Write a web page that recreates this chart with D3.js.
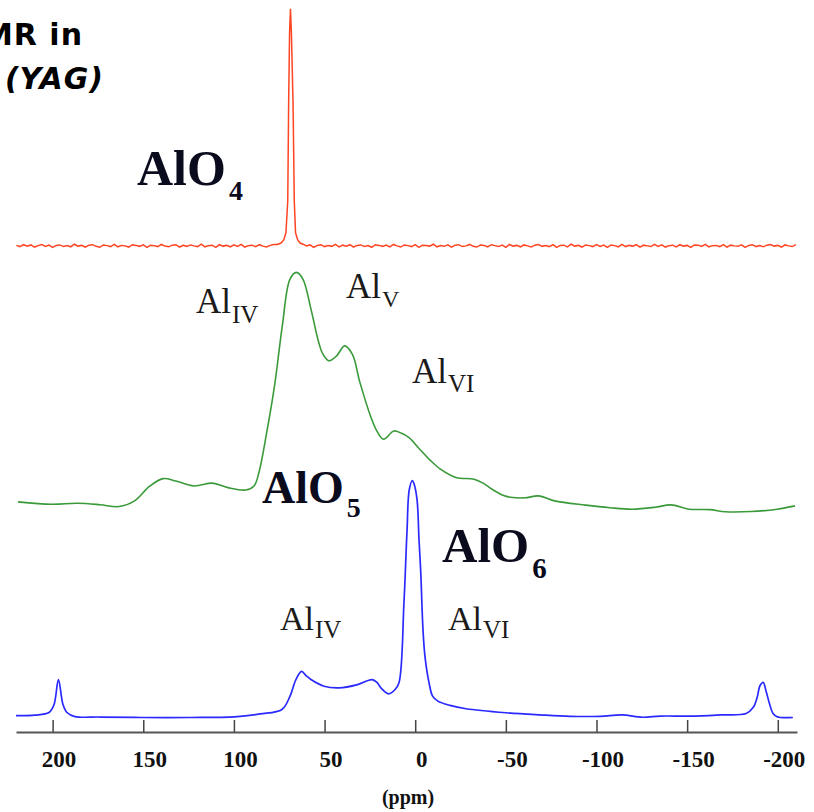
<!DOCTYPE html>
<html>
<head>
<meta charset="utf-8">
<script src="https://cdn.jsdelivr.net/npm/d3@7"></script>
<style>
  html, body { margin: 0; padding: 0; background: #fff; }
  svg { display: block; }
</style>
</head>
<body>
<script>
// ---------------- DATA ----------------
const ppmTicks = [200, 150, 100, 50, 0, -50, -100, -150, -200];
const axisTitle = "(ppm)";

// vertical stacking offsets of the three traces (intensity units)
const traceOffsets = { blue: 0, green: 90, red: 199 };

// red trace (crystalline YAG) : sharp AlO4 line + noisy baseline
const redGridStart = 220, redGridStep = -2;
const redNoise = [
  0.2,-0.3,0.5,-0.1,0.4,-0.5,0.1,0.6,-0.2,0.3,
  -0.6,0.2,0.4,-0.3,0.1,-0.4,0.7,-0.1,0.2,-0.5,
  0.3,0.5,-0.2,-0.6,0.4,0.1,-0.3,0.6,-0.4,0.2,
  0.0,-0.5,0.5,0.2,-0.2,0.4,-0.6,0.3,0.1,-0.3,
  0.6,-0.1,-0.4,0.3,0.5,-0.5,0.2,-0.2,0.4,0.0,
  -0.3,0.7,-0.4,0.1,0.3,-0.6,0.5,-0.1,0.2,-0.4,
  0.4,-0.2,0.6,-0.5,0.1,0.3,-0.3,0.5,-0.1,-0.5,
  0.2,0.6,-0.3,0.1,-0.4,0.4,-0.2,0.3,0.7,-0.5,
  0.0,0.4,-0.6,0.2,0.5,-0.3,0.1,-0.2,0.6,-0.4,
  0.3,-0.1,0.5,-0.5,0.2,0.4,-0.3,0.1,-0.6,0.5,
  0.2,-0.2,0.3,-0.4,0.6,0.0,-0.5,0.4,0.1,-0.3,
  0.5,-0.6,0.3,0.2,-0.1,0.7,-0.4,0.1,-0.2,0.4,
  -0.5,0.3,0.5,-0.3,0.0,0.6,-0.2,-0.5,0.4,0.2,
  -0.4,0.5,0.1,-0.3,0.3,-0.6,0.6,-0.1,0.2,-0.4,
  0.4,0.0,-0.5,0.3,0.6,-0.2,0.1,-0.3,0.5,-0.6,
  0.2,0.3,-0.4,0.7,-0.1,0.2,-0.5,0.4,0.1,-0.3,
  0.5,-0.2,0.3,-0.6,0.4,0.1,-0.4,0.6,-0.3,0.2,
  -0.1,0.5,-0.5,0.3,0.0,-0.3,0.6,-0.2,0.4,-0.5,
  0.1,0.3,-0.4,0.5,-0.1,0.2,-0.6,0.4,0.3,-0.2,
  0.6,-0.4,0.1,0.2,-0.3,0.5,-0.5,0.3,0.0,-0.2,
  0.4,-0.6,0.2,0.5,-0.3,0.1,-0.4,0.3,0.6,-0.1,
  0.2,-0.5,0.4,0.0,-0.3,0.5
];
const redPeak = [
  [76, 0.6], [74, 1.2], [72.5, 2.5], [71.3, 5.5], [70.3, 19], [69.8, 61],
  [69.3, 90], [68.8, 100], [68.3, 90], [67.4, 61], [66.7, 19], [66.0, 5.5],
  [64.8, 2.5], [63.5, 1.2], [61.5, 0.6]
];

// green trace (amorphous) [ppm, intensity]
const greenSpectrum = [
  [219.1,1.0],[200.5,0.0],[186.2,0.4],[173.9,-0.2],[163.4,-1.0],[154.8,1.4],
  [146.3,7.7],[139.1,10.8],[132.0,9.8],[122.0,7.7],[111.9,8.9],[103.3,7.0],
  [93.4,6.0],[88.9,7.7],[86.2,13.4],[81.9,30.3],[77.6,49.9],[73.3,75.2],
  [69.1,94.9],[65.5,97.8],[61.9,94.9],[57.5,82.3],[53.2,68.2],[50.9,63.3],
  [47.6,60.5],[43.3,62.6],[39.0,66.8],[34.7,63.3],[30.5,51.4],[24.7,37.3],
  [21.1,30.8],[17.5,27.4],[11.8,30.9],[7.8,30.0],[3.4,28.1],[-2.5,23.2],
  [-8.2,18.6],[-13.9,14.8],[-22.5,11.3],[-32.4,10.5],[-37.4,8.9],[-42.4,6.3],
  [-48.4,3.8],[-53.9,2.8],[-60.6,2.7],[-68.2,3.5],[-76.8,1.4],[-94.0,-0.4],
  [-107.5,-1.5],[-119.6,-2.1],[-132.3,-1.3],[-141.1,-0.3],[-151.1,-2.1],
  [-162.6,-2.3],[-171.1,-3.2],[-185.4,-3.1],[-199.7,-2.1],[-209.5,-0.7]
];

// blue trace [ppm, intensity]
const blueSpectrum = [
  [220.2,0.8],[209.8,1.0],[202.0,2.1],[199.2,5.5],[196.8,16],[194.3,5.5],
  [192.1,2.1],[187.7,0.4],[173.9,0.2],[151.3,0.0],[124.2,0.0],[99.6,0.3],
  [85.6,1.5],[73.5,3.4],[69.1,8.9],[65.8,16],[62.7,19.5],[60.2,17.7],
  [57.5,16],[50.3,13.2],[42.0,12.5],[31.8,13.9],[23.8,16],[21.1,14.8],
  [18.9,12.5],[14.7,10],[11.1,11.8],[8.9,14.8],[6.2,48.5],[4.5,79],
  [3.3,96],[1.6,100],[0.7,98.7],[-1.0,92],[-2.1,75],[-3.0,62.4],[-4.3,37],
  [-5.4,25.7],[-7.6,14.8],[-9.6,9],[-12.5,6.9],[-19.2,5.1],[-28.0,3.7],
  [-50.1,2.0],[-68.9,1.1],[-85.4,0.5],[-102,0.5],[-114.1,1.1],[-125.4,0.1],
  [-135.1,0.6],[-151.6,0.6],[-168.2,1.1],[-182.5,1.7],[-186.4,4.2],
  [-188.6,8.4],[-190.2,13.5],[-191.9,14.8],[-193.6,11],[-195.4,5.9],
  [-197.4,1.7],[-199.6,0.3],[-208.3,0.0]
];

// ---------------- CHART ----------------
const W = 814, H = 812;
const svg = d3.select("body").append("svg").attr("width", W).attr("height", H);

const x = d3.scaleLinear().domain([220.2, -210.6]).range([16, 797]);
const y = d3.scaleLinear().domain([0, 300]).range([717.5, 6.5]);

// build red series from grid noise + peak
const redBaseline = redNoise.map((v, i) => [redGridStart + i * redGridStep, v])
  .filter(d => d[0] > 76 || d[0] < 61.5);
const redSpectrum = redBaseline.concat(redPeak).sort((a, b) => b[0] - a[0]);

function mkLine(off, curve) {
  return d3.line().x(d => x(d[0])).y(d => y(d[1] + off)).curve(curve);
}

// axis
const axis = d3.axisBottom(x).tickValues(ppmTicks).tickSizeInner(-12).tickSizeOuter(0)
  .tickFormat(d => String(d));
const gAxis = svg.append("g").attr("transform", "translate(0,732)").call(axis);
gAxis.select(".domain").attr("stroke", "#555").attr("stroke-width", 2);
gAxis.selectAll(".tick line").attr("stroke", "#444").attr("stroke-width", 1.5);
gAxis.selectAll(".tick text")
  .attr("y", 35).attr("dy", 0).attr("dx", 6)
  .attr("fill", "#111")
  .style("font-family", "'Liberation Serif', 'Times New Roman', serif")
  .style("font-weight", "bold").style("font-size", "23px");

svg.append("text").attr("x", 408).attr("y", 804).attr("text-anchor", "middle")
  .style("font-family", "'Liberation Serif', serif").style("font-weight", "bold")
  .style("font-size", "20px").attr("fill", "#111").text(axisTitle);

// traces
svg.append("path").datum(redSpectrum).attr("d", mkLine(traceOffsets.red, d3.curveLinear))
  .attr("fill", "none").attr("stroke", "#ff4422").attr("stroke-width", 1.5);
svg.append("path").datum(greenSpectrum).attr("d", mkLine(traceOffsets.green, d3.curveCatmullRom.alpha(0.5)))
  .attr("fill", "none").attr("stroke", "#3a9a3a").attr("stroke-width", 1.6);
svg.append("path").datum(blueSpectrum).attr("d", mkLine(traceOffsets.blue, d3.curveCatmullRom.alpha(0.5)))
  .attr("fill", "none").attr("stroke", "#2a2aff").attr("stroke-width", 1.7);

// title (cut off at the left edge, as in the reference)
const tFont = "'DejaVu Sans', sans-serif";
svg.append("text").attr("x", 83).attr("y", 45).attr("text-anchor", "end")
  .style("font-family", tFont).style("font-weight", "bold").style("font-size", "30px")
  .style("letter-spacing", "1px").attr("fill", "#000").text("NMR in");
svg.append("text").attr("x", 104).attr("y", 89).attr("text-anchor", "end")
  .style("font-family", tFont).style("font-weight", "bold").style("font-size", "30px")
  .style("font-style", "italic")
  .style("letter-spacing", "1px").attr("fill", "#000").text("(YAG)");

// big AlOn labels
function bigLabel(px, py, size, sub, subSize, subDy) {
  const t = svg.append("text").attr("x", px).attr("y", py)
    .style("font-family", "'Liberation Serif', 'Times New Roman', serif")
    .style("font-weight", "bold").attr("fill", "#0b0b1e");
  t.append("tspan").style("font-size", size + "px").text("AlO");
  t.append("tspan").attr("dx", 3).attr("dy", subDy).style("font-size", subSize + "px").text(sub);
}
bigLabel(137, 185, 50, "4", 28, 15);
bigLabel(262, 503, 46, "5", 28, 14);
bigLabel(442, 562, 49, "6", 29, 16);

// Al site labels
function siteLabel(px, py, size, sub, subSize, subDy) {
  const t = svg.append("text").attr("x", px).attr("y", py)
    .style("font-family", "'Liberation Serif', 'Times New Roman', serif")
    .attr("fill", "#1a1a1a");
  t.append("tspan").style("font-size", size + "px").text("Al");
  t.append("tspan").attr("dx", 1).attr("dy", subDy).style("font-size", subSize + "px").text(sub);
}
siteLabel(196, 313, 35, "IV", 25, 10);
siteLabel(346, 298, 35, "V", 24, 9);
siteLabel(412, 383, 35, "VI", 25, 9);
siteLabel(280, 630, 34, "IV", 25, 8);
siteLabel(448, 630, 34, "VI", 25, 8);
</script>
</body>
</html>
